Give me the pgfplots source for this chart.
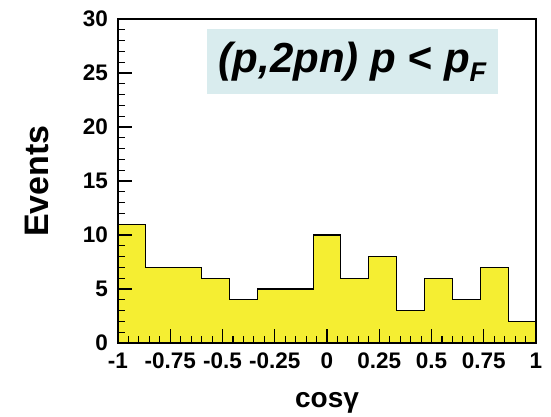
\documentclass[border=0pt]{standalone}
\usepackage{fontspec}
\setmainfont{Liberation Sans}
\usepackage{pgfplots}
\pgfplotsset{compat=1.18}
\definecolor{histy}{RGB}{245,238,50}
\definecolor{boxc}{RGB}{217,236,238}
\begin{document}
\begin{tikzpicture}
\begin{axis}[
  at={(0,0)}, anchor=south west,
  scale only axis, width=418pt, height=324pt,
  xmin=-1, xmax=1, ymin=0, ymax=30,
  axis on top,
  axis line style={line width=1.2pt},
  every tick/.style={black, line width=1.1pt},
  tick align=inside,
  xtick pos=bottom, ytick pos=left,
  major tick length=14pt, minor tick length=7pt,
  xtick={-1,-0.75,-0.5,-0.25,0,0.25,0.5,0.75,1},
  xticklabels={-1,-0.75,-0.5,-0.25,0,0.25,0.5,0.75,1},
  ytick={0,5,10,15,20,25,30},
  yticklabels={0,5,10,15,20,25,30},
  minor x tick num=4, minor y tick num=4,
  tick label style={font=\fontsize{22.5}{22.5}\selectfont\bfseries},
  xticklabel style={inner sep=0pt, anchor=north, yshift=-10pt},
  yticklabel style={inner sep=0pt, anchor=east, xshift=-10pt},
  xlabel={\fontsize{28}{28}\selectfont\bfseries cosγ},
  ylabel={\fontsize{34}{34}\selectfont\bfseries Events},
  xlabel style={at={(axis description cs:0.5,-0.2)}, anchor=base, inner sep=0pt},
  ylabel style={at={(axis description cs:-0.1651,0.5)}, anchor=base, inner sep=0pt},
]
\addplot[const plot, fill=histy, draw=black, line width=1.1pt] coordinates {
(-1.0000,11) (-0.8667,7) (-0.7333,7) (-0.6000,6) (-0.4667,4)
(-0.3333,5) (-0.2000,5) (-0.0667,10) (0.0667,6) (0.2000,8)
(0.3333,3) (0.4667,6) (0.6000,4) (0.7333,7) (0.8667,2) (1.0000,2)
} \closedcycle;
\node[fill=boxc, minimum width=291pt, minimum height=65pt, inner sep=0pt,
  font=\fontsize{42}{42}\selectfont\bfseries\itshape]
  at (rel axis cs:0.561,0.869) {(p,2pn) p < p\raisebox{-9pt}{\fontsize{27}{27}\selectfont F}};
\end{axis}
\pgfresetboundingbox
\path[use as bounding box] (-118pt,-74pt) rectangle (433pt,343pt);
\end{tikzpicture}
\end{document}
